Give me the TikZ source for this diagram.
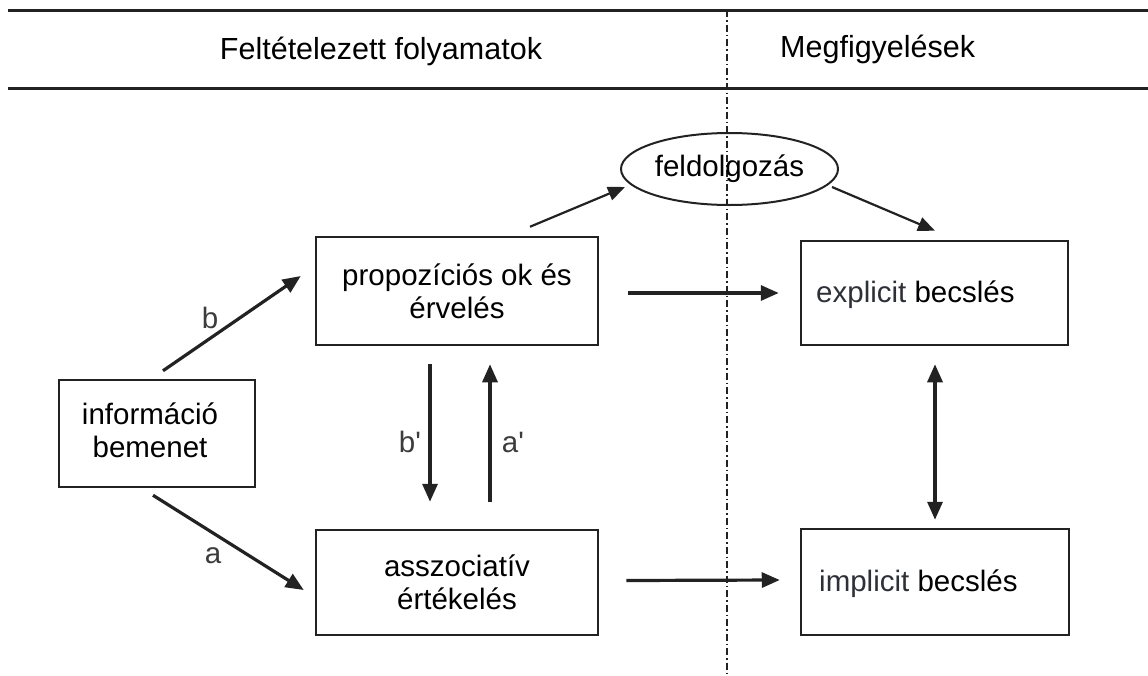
\documentclass[tikz,border=0pt]{standalone}
\usepackage{fontspec}
\setmainfont{Liberation Sans}
\newfontfamily\lblfont{Liberation Sans}[Ligatures=TeXOff]
\usetikzlibrary{arrows.meta,shapes.geometric}
\definecolor{ln}{HTML}{222222}
\definecolor{lab}{HTML}{3C3C3C}
\definecolor{slate}{HTML}{2E3038}
\begin{document}
\begin{tikzpicture}[x=1pt,y=-1pt,
  txt/.style={font=\fontsize{29.5}{33}\selectfont, inner sep=0pt, align=center},
  box/.style={draw=ln, line width=2.5pt, inner sep=0pt},
  arr/.style={draw=ln, line width=3.2pt, -{Triangle[length=18pt,width=15pt]}},
  thinarr/.style={draw=ln, line width=2.2pt, -{Triangle[length=17pt,width=14pt]}},
  lbl/.style={font=\lblfont\fontsize{29.5}{33}\selectfont, text=lab, inner sep=0pt}]
\useasboundingbox (0,0) rectangle (1148,675);
% header
\draw[ln, line width=3pt] (8,10) -- (1148,10);
\draw[ln, line width=3pt] (8,88) -- (1148,88);
\draw[ln, line width=1.6pt, dash pattern=on 7pt off 3pt on 1.5pt off 3pt] (727,10) -- (727,675);
\node[txt, font=\fontsize{30.5}{34}\selectfont] (h1) at (381,51) {Feltételezett folyamatok};
\node[txt, anchor=west, font=\fontsize{30.5}{34}\selectfont] (h2) at (780,49) {Megfigyelések};
% boxes
\node[box, minimum width=196pt, minimum height=107pt] (info) at (157,433.5) {};
\node[txt] (infot) at (150,430) {információ\\bemenet};
\node[box, txt, minimum width=282pt, minimum height=108pt] (prop) at (457,291) {propozíciós ok és\\érvelés};
\node[box, txt, minimum width=282pt, minimum height=105pt] (assoc) at (457,582.5) {asszociatív\\értékelés};
\node[box, minimum width=267pt, minimum height=104pt] (expl) at (934.5,293) {};
\node[txt, anchor=west] (explt) at (816,295) {\textcolor{slate}{explicit} becslés};
\node[box, minimum width=268pt, minimum height=106pt] (impl) at (935,582) {};
\node[txt, anchor=west] (implt) at (819,584) {\textcolor{slate}{implicit} becslés};
\node[draw=ln, line width=2pt, ellipse, minimum width=217pt, minimum height=72pt, inner sep=0pt, font=\fontsize{29.5}{33}\selectfont] (ell) at (729.5,169) {feldolgozás};
% arrows
\draw[arr] ([xshift=6pt,yshift=8pt]info.north) -- ([xshift=-14pt,yshift=15pt]prop.west);
\draw[arr] ([xshift=-4pt,yshift=-7pt]info.south) -- ([xshift=-11pt,yshift=-7.5pt]assoc.west);
\draw[arr] ([xshift=-27pt,yshift=-18pt]prop.south) -- ([xshift=-27pt,yshift=27pt]assoc.north);
\draw[arr] ([xshift=33pt,yshift=27pt]assoc.north) -- ([xshift=33pt,yshift=-18pt]prop.south);
\draw[arr] ([xshift=29pt,yshift=-2pt]prop.east) -- ([xshift=-21pt]expl.west);
\draw[arr] ([xshift=27pt,yshift=2pt]assoc.east) -- ([xshift=-20pt,yshift=2pt]impl.west);
\draw[arr, {Triangle[length=18pt,width=15pt]}-{Triangle[length=18pt,width=15pt]}] ([xshift=0.5pt,yshift=-18pt]expl.south) -- ([xshift=0pt,yshift=8pt]impl.north);
\draw[thinarr] ([xshift=73pt,yshift=9pt]prop.north) -- ([xshift=-104.5pt,yshift=-18pt]ell.center);
\draw[thinarr] ([xshift=102.5pt,yshift=-18pt]ell.center) -- ([xshift=0.5pt,yshift=9pt]expl.north);
% labels
\node[lbl] (lb) at (210,318) {b};
\node[lbl] (la) at (213,556) {a};
\node[lbl] (lbp) at (410,442) {b'};
\node[lbl] (lap) at (513,442) {a'};
\end{tikzpicture}
\end{document}
